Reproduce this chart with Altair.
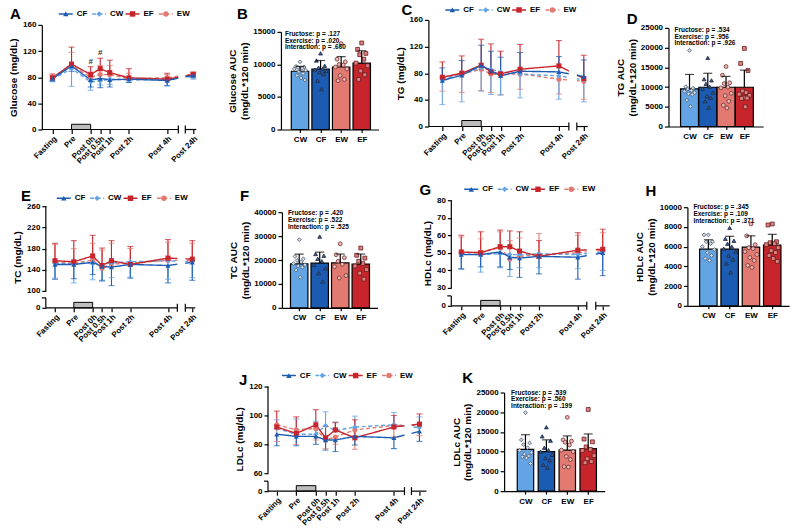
import altair as alt
import pandas as pd

FONT = "Arial"

# ---- sampling schedule -------------------------------------------------
TIME_LABELS = ["Fasting", "Pre", "Post 0h", "Post 0.5h", "Post 1h", "Post 2h", "Post 4h", "Post 24h"]
TIME_HOURS = [-2, -1, 0, 0.5, 1, 2, 4, 24]

SERIES = ["CF", "CW", "EF", "EW"]
SERIES_COLORS = ["#1b5cb2", "#62a4e4", "#c8242b", "#e27a72"]
SERIES_DASH = [[1, 0], [4, 2.5], [1, 0], [4, 2.5]]
SERIES_SHAPES = ["triangle-up", "diamond", "square", "circle"]
DRAW_ORDER = ["EW", "CW", "EF", "CF"]

GROUPS = ["CW", "CF", "EW", "EF"]
BAR_COLORS = ["#4b90dc", "#0d4d9f", "#dd968f", "#be2228"]
DOT_SHAPES = ["diamond", "triangle-up", "circle", "square"]
DOT_FILLS = ["#cdd9e6", "#3d5b88", "#ebb8b3", "#da8383"]
DOT_STROKES = ["#4b5868", "#1a2a45", "#6e3030", "#6a1b1b"]

FACTORS = ["Fructose", "Exercise", "Interaction"]

# ---- time courses (mean, SD, side of the error bar) --------------------
GLU_MEAN = {
    "CF": [78, 97, 76, 78, 76, 77, 75, 83],
    "CW": [77, 93, 73, 74, 77, 76, 77, 81],
    "EF": [79, 100, 84, 93, 87, 79, 77, 84],
    "EW": [80, 98, 80, 84, 84, 78, 79, 85],
}
GLU_SD = {
    "CF": [4, 8, 11, 14, 11, 5, 8, 4],
    "CW": [4, 27, 13, 6, 8, 4, 10, 4],
    "EF": [6, 26, 12, 16, 19, 14, 9, 4],
    "EW": [3, 20, 8, 14, 14, 8, 5, 2],
}
GLU_DIR = {"CF": -1, "CW": -1, "EF": 1, "EW": 1}
GLU_HASH_HOURS = [0, 0.5]
GLU_HASH_Y = [103, 117]

TG_MEAN = {
    "CF": [69, 77, 92, 84, 76, 83, 82, 75],
    "CW": [70, 80, 88, 86, 82, 79, 76, 70],
    "EF": [74, 80, 92, 82, 79, 86, 91, 72],
    "EW": [73, 79, 86, 79, 78, 79, 71, 68],
}
TG_SD = {
    "CF": [19, 22, 30, 29, 28, 28, 23, 25],
    "CW": [37, 43, 35, 38, 35, 36, 35, 33],
    "EF": [23, 26, 39, 42, 34, 37, 38, 35],
    "EW": [20, 28, 32, 28, 30, 23, 22, 27],
}
TG_DIR = {"CF": 1, "CW": -1, "EF": 1, "EW": -1}

TC_MEAN = {
    "CF": [150, 150, 154, 146, 145, 150, 148, 154],
    "CW": [152, 151, 153, 150, 153, 155, 157, 155],
    "EF": [157, 155, 166, 148, 157, 150, 162, 160],
    "EW": [155, 152, 158, 143, 151, 152, 158, 157],
}
TC_SD = {
    "CF": [28, 27, 23, 26, 35, 26, 33, 34],
    "CW": [28, 36, 32, 32, 28, 29, 35, 30],
    "EF": [33, 40, 39, 33, 38, 34, 35, 35],
    "EW": [33, 28, 32, 34, 39, 28, 34, 33],
}
TC_DIR = {"CF": -1, "CW": -1, "EF": 1, "EW": 1}

HDL_MEAN = {
    "CF": [49, 49, 50.5, 47.5, 47, 48, 47.5, 50],
    "CW": [49.5, 49, 49.5, 49, 49, 49.5, 49, 50.5],
    "EF": [50.5, 50, 53.5, 53.5, 51, 48, 51.5, 52],
    "EW": [50, 50.5, 53, 46.5, 48, 49, 50, 51.5],
}
HDL_SD = {
    "CF": [8, 7, 8.5, 7, 11, 10, 12.5, 13],
    "CW": [9, 10, 8, 12.5, 7.5, 8, 8, 10.5],
    "EF": [9.5, 12, 9.5, 9, 11, 9, 10, 11.5],
    "EW": [9, 7.5, 9, 10.5, 10.5, 12, 10, 10],
}
HDL_DIR = {"CF": -1, "CW": -1, "EF": 1, "EW": 1}

LDL_MEAN = {
    "CF": [87, 85.5, 85.5, 83, 83, 85.5, 84.5, 89],
    "CW": [91, 87, 87, 93, 89.5, 92, 93.5, 91.5],
    "EF": [92, 87.5, 93.5, 84.5, 90, 84.5, 92, 94],
    "EW": [93.5, 90, 91, 83, 85, 90, 93, 93.5],
}
LDL_SD = {
    "CF": [8, 6.5, 5.5, 7, 8, 6, 7.5, 7],
    "CW": [6, 10.5, 9, 9.5, 6, 7.5, 8.5, 7.5],
    "EF": [11, 11.5, 10.5, 8, 5, 12.5, 8, 7],
    "EW": [11.5, 10, 8, 6, 5, 13.5, 8, 7.5],
}
LDL_DIR = {"CF": -1, "CW": 1, "EF": 1, "EW": -1}

# ---- areas under the curve (group order: CW, CF, EW, EF) ---------------
GLU_AUC_MEAN = [8950, 9300, 9600, 10200]
GLU_AUC_SD = [750, 1300, 1600, 1900]
GLU_AUC_PTS = {
    "CW": [10400, 9700, 9600, 9500, 9400, 9300, 9100, 8900, 8600, 8300, 7900, 7600],
    "CF": [11700, 10600, 9800, 9500, 9300, 9200, 9000, 8800, 8500, 7500, 6200],
    "EW": [13200, 10800, 10400, 10000, 9900, 9600, 9300, 8300, 7700, 7500],
    "EF": [13300, 12300, 11700, 11500, 10800, 10200, 9800, 9000, 8400, 7700],
}
GLU_AUC_P = [".127", ".020", ".660"]

TG_AUC_MEAN = [9550, 9950, 9950, 9950]
TG_AUC_SD = [3650, 3550, 2750, 4350]
TG_AUC_PTS = {
    "CW": [19300, 10100, 9700, 9500, 9100, 8900, 8600, 8300, 8100, 6700, 5100],
    "CF": [17400, 12000, 11700, 10800, 10100, 9600, 8600, 7700, 7300, 6400, 4800],
    "EW": [15200, 13000, 11100, 10900, 10000, 9800, 8400, 7800, 6400, 5400, 4700],
    "EF": [19800, 16000, 14200, 9000, 8600, 8200, 7900, 7400, 7200, 7100, 5000],
}
TG_AUC_P = [".534", ".956", ".926"]

TC_AUC_MEAN = [18400, 18700, 18800, 18300]
TC_AUC_SD = [4100, 4600, 3700, 4200]
TC_AUC_PTS = {
    "CW": [28500, 21500, 20500, 19800, 19200, 18500, 18000, 17500, 17000, 15800, 12800],
    "CF": [29800, 22500, 21800, 20500, 19500, 18000, 16500, 14500, 11000],
    "EW": [26800, 22200, 21000, 19500, 18200, 17200, 13500, 12500],
    "EF": [25000, 22000, 20800, 19500, 18500, 17500, 16000, 14500, 12000],
}
TC_AUC_P = [".420", ".522", ".525"]

HDL_AUC_MEAN = [5750, 5750, 5950, 6150]
HDL_AUC_SD = [950, 1300, 1150, 1100]
HDL_AUC_PTS = {
    "CW": [7200, 7200, 6500, 6500, 6300, 6000, 5700, 5400, 5100, 4800, 4600],
    "CF": [7900, 6800, 6600, 6300, 6000, 5800, 5500, 5100, 4700, 4300, 3400],
    "EW": [8300, 7100, 6200, 5900, 5800, 5500, 5200, 4900, 4600, 4100, 3900],
    "EF": [8300, 8200, 6500, 6400, 6300, 6200, 5900, 5600, 5400, 5100, 4800, 4500],
}
HDL_AUC_P = [".345", ".109", ".371"]

LDL_AUC_MEAN = [10600, 10000, 10400, 10800]
LDL_AUC_SD = [3700, 3000, 3600, 3700]
LDL_AUC_PTS = {
    "CW": [19900, 13000, 12200, 11800, 11000, 10300, 9800, 9400, 8900, 8700, 8400, 7000],
    "CF": [16200, 13900, 12800, 11000, 10400, 10000, 9200, 8400, 7800, 6700, 6000],
    "EW": [18700, 13000, 12700, 12400, 11700, 10400, 10000, 8800, 8000, 6200, 6100],
    "EF": [20700, 13200, 12500, 11200, 10600, 10300, 9000, 8200, 7500, 7200],
}
LDL_AUC_P = [".539", ".560", ".199"]

# horizontal spread of the individual dots inside a bar (category units)
JITTER = [0, -0.2, 0.2, -0.1, 0.1, -0.28, 0.28, -0.05, 0.15, -0.15, 0.05, 0.24]


def nested_label_expr(values, labels):
    expr = "''"
    for v, lab in reversed(list(zip(values, labels))):
        expr = f"datum.value == {v} ? '{lab}' : {expr}"
    return expr


TIME_EXPR = nested_label_expr(TIME_HOURS, TIME_LABELS)
GROUP_EXPR = nested_label_expr(list(range(len(GROUPS))), GROUPS)


def letter_layer(letter, x, y):
    return alt.Chart(pd.DataFrame({"t": [letter]})).mark_text(
        font=FONT, fontSize=15, fontWeight="bold", align="left", baseline="middle", color="black"
    ).encode(text="t:N", x=alt.value(x), y=alt.value(y))


def line_panel(means, sds, dirs, lay, title, letter, box_top, hashes=None):
    W, H = lay["w"], lay["h"]
    p0, pph = lay["p0"], lay["pph"]
    b1, b2, p24, pend = lay["b1"], lay["b2"], lay["p24"], lay["end"]
    xdom = [-p0 / pph, (b1 - p0) / pph, 24 + (b2 - p24) / pph, 24 + (pend - p24) / pph]
    xs = alt.Scale(domain=xdom, range=[0, b1, b2, pend], nice=False, zero=False)
    ydom = lay["ydom"]
    ys = alt.Scale(domain=ydom, range=lay["yrange"], nice=False, zero=False)
    broken = len(ydom) > 2

    xaxis = alt.Axis(values=TIME_HOURS, labelExpr=TIME_EXPR, labelAngle=315, labelAlign="right",
                     labelBaseline="top", domain=False, title=None, grid=False, labelFontSize=8,
                     tickSize=4, labelPadding=1, labelOverlap=False)
    yaxis = alt.Axis(values=lay["yticks"], title=title, domain=not broken, grid=False,
                     labelFontSize=8, titleFontSize=10, titlePadding=4, tickSize=4,
                     labelPadding=2, labelOverlap=False)

    def X(f):
        return alt.X(f, scale=xs, axis=xaxis)

    def Y(f):
        return alt.Y(f, scale=ys, axis=yaxis)

    rows = []
    for s in DRAW_ORDER:
        for i, h in enumerate(TIME_HOURS):
            m = means[s][i]
            rows.append({"series": s, "hours": h, "mean": m, "end": m + dirs[s] * sds[s][i]})
    df = pd.DataFrame(rows)

    color = alt.Color("series:N", scale=alt.Scale(domain=SERIES, range=SERIES_COLORS), legend=None)
    dash = alt.StrokeDash("series:N", scale=alt.Scale(domain=SERIES, range=SERIES_DASH), legend=None)
    shape = alt.Shape("series:N", scale=alt.Scale(domain=SERIES, range=SERIES_SHAPES), legend=None)

    base = alt.Chart(df)
    box = alt.Chart(pd.DataFrame({"x0": [TIME_HOURS[1]], "x1": [TIME_HOURS[2]],
                                  "y0": [0], "y1": [box_top]})).mark_rect(
        fill="#bdbdbd", stroke="black", strokeWidth=1
    ).encode(x=X("x0:Q"), x2="x1:Q", y=Y("y0:Q"), y2="y1:Q")
    lines = base.mark_line(strokeWidth=1.4).encode(
        x=X("hours:Q"), y=Y("mean:Q"), color=color, strokeDash=dash, detail="series:N")
    err = base.mark_rule(strokeWidth=1.1).encode(x=X("hours:Q"), y=Y("mean:Q"), y2="end:Q", color=color)
    caps = base.mark_tick(orient="horizontal", size=6, thickness=1.1).encode(
        x=X("hours:Q"), y=Y("end:Q"), color=color)
    pts = base.mark_point(filled=True, opacity=1, size=26).encode(
        x=X("hours:Q"), y=Y("mean:Q"), color=color, shape=shape)

    gap = alt.Chart(pd.DataFrame({"a": [xdom[1]], "b": [xdom[2]]})).mark_rect(fill="white").encode(
        x=X("a:Q"), x2="b:Q", y=alt.value(0), y2=alt.value(H - 1.5))
    xline = alt.Chart(pd.DataFrame({"a": [xdom[0], xdom[2]], "b": [xdom[1], xdom[3]]})).mark_rule(
        color="black", strokeWidth=1.2).encode(x=X("a:Q"), x2="b:Q", y=alt.value(H))
    xbreak = alt.Chart(pd.DataFrame({"a": [xdom[1], xdom[2]]})).mark_rule(
        color="black", strokeWidth=1.2).encode(x=X("a:Q"), y=alt.value(H - 4), y2=alt.value(H + 4))

    layers = [box, lines, err, caps, pts, gap, xline, xbreak]

    if broken:
        yline = alt.Chart(pd.DataFrame({"a": [ydom[0], ydom[2]], "b": [ydom[1], ydom[3]]})).mark_rule(
            color="black", strokeWidth=1.2).encode(x=alt.value(0), y=Y("a:Q"), y2="b:Q")
        ycap = alt.Chart(pd.DataFrame({"a": [ydom[1]]})).mark_rule(
            color="black", strokeWidth=1.2).encode(x=alt.value(-4), x2=alt.value(0), y=Y("a:Q"))
        layers += [yline, ycap]

    # legend row above the plot
    lx0, ly, step = lay["legend"]
    leg = alt.Chart(pd.DataFrame({"series": SERIES, "idx": list(range(len(SERIES)))})).transform_calculate(
        lx=f"{lx0} + datum.idx * {step}", lt=f"{lx0 + 11} + datum.idx * {step}")
    leg_line = leg.mark_point(shape="M-1,0L1,0", size=196, filled=False, strokeWidth=1.5, opacity=1).encode(
        x=alt.X("lx:Q", scale=None), y=alt.value(ly), color=color, strokeDash=dash)
    leg_pt = leg.mark_point(filled=True, opacity=1, size=30).encode(
        x=alt.X("lx:Q", scale=None), y=alt.value(ly), color=color, shape=shape)
    leg_txt = leg.mark_text(font=FONT, fontSize=8, fontWeight="bold", align="left", baseline="middle",
                            color="black").encode(x=alt.X("lt:Q", scale=None), y=alt.value(ly), text="series:N")
    layers += [leg_line, leg_pt, leg_txt, letter_layer(letter, *lay["letter"])]

    if hashes is not None:
        hdf = pd.DataFrame({"hours": hashes[0], "y": hashes[1], "t": ["#"] * len(hashes[0])})
        layers.append(alt.Chart(hdf).mark_text(font=FONT, fontSize=8, fontWeight="bold", color="#333333").encode(
            x=X("hours:Q"), y=Y("y:Q"), text="t:N"))

    return alt.layer(*layers).properties(width=W, height=H)


def bar_panel(means, sds, points, pvals, lay, title_lines, letter):
    W, H = lay["w"], lay["h"]
    step, bw, first, R = lay["step"], lay["bw"], lay["first"], lay["R"]
    a = first + bw / 2
    xs = alt.Scale(domain=[-a / step, (R - a) / step], range=[0, R], nice=False, zero=False)
    ys = alt.Scale(domain=[0, lay["ymax"]], range=lay["yrange"], nice=False, zero=False)
    xaxis = alt.Axis(values=list(range(len(GROUPS))), labelExpr=GROUP_EXPR, title=None, labelAngle=0,
                     tickSize=3, labelPadding=3, grid=False, labelFontSize=8)
    yaxis = alt.Axis(values=list(range(0, lay["ymax"] + 1, lay["ystep"])), title=title_lines, grid=False,
                     format="d", labelFontSize=8, titleFontSize=10, tickSize=4, titlePadding=3,
                     labelOverlap=False)

    def X(f):
        return alt.X(f, scale=xs, axis=xaxis)

    def Y(f):
        return alt.Y(f, scale=ys, axis=yaxis)

    bdf = pd.DataFrame({"grp": GROUPS, "pos": list(range(len(GROUPS))), "mean": means,
                        "top": [m + s for m, s in zip(means, sds)]})
    prow = []
    for gi, g in enumerate(GROUPS):
        for k, v in enumerate(sorted(points[g], reverse=True)):
            prow.append({"grp": g, "jx": gi + JITTER[k % len(JITTER)], "val": v})
    pdf = pd.DataFrame(prow)

    bars = alt.Chart(bdf).mark_bar(size=bw, stroke="black", strokeWidth=1.2).encode(
        x=X("pos:Q"), y=Y("mean:Q"),
        color=alt.Color("grp:N", scale=alt.Scale(domain=GROUPS, range=BAR_COLORS), legend=None))
    dots = alt.Chart(pdf).mark_point(filled=True, opacity=1, size=15, strokeWidth=0.8).encode(
        x=X("jx:Q"), y=Y("val:Q"),
        shape=alt.Shape("grp:N", scale=alt.Scale(domain=GROUPS, range=DOT_SHAPES), legend=None),
        fill=alt.Fill("grp:N", scale=alt.Scale(domain=GROUPS, range=DOT_FILLS), legend=None),
        stroke=alt.Stroke("grp:N", scale=alt.Scale(domain=GROUPS, range=DOT_STROKES), legend=None))
    err = alt.Chart(bdf).mark_rule(color="black", strokeWidth=1.2).encode(
        x=X("pos:Q"), y=Y("mean:Q"), y2="top:Q")
    cap = alt.Chart(bdf).mark_tick(orient="horizontal", color="black", size=9, thickness=1.2).encode(
        x=X("pos:Q"), y=Y("top:Q"))
    px, py = lay["ptext"]
    ptxt = alt.Chart(pd.DataFrame({"t": [0]})).mark_text(
        text=[f"{f}: p = {p}" for f, p in zip(FACTORS, pvals)], font=FONT, fontSize=6.5,
        fontWeight="bold", align="left", baseline="top", lineHeight=6.7, color="black"
    ).encode(x=alt.value(px), y=alt.value(py))
    return alt.layer(bars, dots, err, cap, ptxt, letter_layer(letter, *lay["letter"])).properties(
        width=W, height=H)


def spacer(w, h):
    return alt.Chart(pd.DataFrame({"v": [0]})).mark_point(opacity=0).encode(
        x=alt.value(0), y=alt.value(0)).properties(width=w, height=h)


# ---- panel geometry (pixels inside each view) --------------------------
LAY_A = dict(w=240, h=126, p0=49, pph=19.2, b1=137, b2=144, p24=152, end=155,
             ydom=[0, 160], yrange=[126, 21], yticks=[0, 40, 80, 120, 160],
             legend=(24, 10, 33.5), letter=(-32, 10))
LAY_C = dict(w=241, h=123, p0=53, pph=19.5, b1=141, b2=149, p24=156, end=160,
             ydom=[0, 160], yrange=[123, 16], yticks=[0, 40, 80, 120, 160],
             legend=(24, 6, 33.5), letter=(-27, 6))
LAY_E = dict(w=237, h=129, p0=47, pph=18.9, b1=132, b2=140, p24=147, end=150,
             ydom=[0, 20, 100, 260], yrange=[129, 119, 112, 27], yticks=[0, 100, 140, 180, 220, 260],
             legend=(18, 19, 33.5), letter=(-25, 17))
LAY_G = dict(w=237, h=127, p0=49, pph=19.5, b1=136, b2=145, p24=152, end=159,
             ydom=[0, 6, 30, 80], yrange=[127, 117, 109, 21], yticks=[0, 30, 40, 50, 60, 70, 80],
             legend=(20, 10, 33.5), letter=(-32, 11))
LAY_J = dict(w=237, h=134, p0=48, pph=19.6, b1=137, b2=144, p24=152, end=159,
             ydom=[0, 20, 60, 120], yrange=[134, 124, 116, 29], yticks=[0, 60, 80, 100, 120],
             legend=(21, 18, 33.5), letter=(-29, 22))

LAY_B = dict(w=148, h=126, step=23, bw=17.5, first=7, R=98, ymax=15000, ystep=5000,
             yrange=[126, 28], ptext=(4, 27), letter=(-44, 10))
LAY_D = dict(w=130, h=123, step=20.5, bw=18, first=9, R=95, ymax=25000, ystep=5000,
             yrange=[123, 24], ptext=(6, 23), letter=(-42, 15))
LAY_F = dict(w=170, h=129, step=23, bw=17.5, first=5, R=96, ymax=40000, ystep=10000,
             yrange=[129, 33], ptext=(6, 31), letter=(-42, 17))
LAY_H = dict(w=111, h=127, step=23.7, bw=17.5, first=9, R=102, ymax=10000, ystep=2000,
             yrange=[127, 28], ptext=(6, 25), letter=(-42, 12))
LAY_K = dict(w=295, h=134, step=23.3, bw=16.5, first=10, R=101, ymax=25000, ystep=5000,
             yrange=[134, 35], ptext=(7, 32), letter=(-42, 20))

AUC_UNIT = "(mg/dL*120 min)"

panel_a = line_panel(GLU_MEAN, GLU_SD, GLU_DIR, LAY_A, "Glucose (mg/dL)", "A", 8,
                     hashes=(GLU_HASH_HOURS, GLU_HASH_Y))
panel_b = bar_panel(GLU_AUC_MEAN, GLU_AUC_SD, GLU_AUC_PTS, GLU_AUC_P, LAY_B, ["Glucose AUC", AUC_UNIT], "B")
panel_c = line_panel(TG_MEAN, TG_SD, TG_DIR, LAY_C, "TG (mg/dL)", "C", 9)
panel_d = bar_panel(TG_AUC_MEAN, TG_AUC_SD, TG_AUC_PTS, TG_AUC_P, LAY_D, ["TG AUC", AUC_UNIT], "D")
panel_e = line_panel(TC_MEAN, TC_SD, TC_DIR, LAY_E, "TC (mg/dL)", "E", 11)
panel_f = bar_panel(TC_AUC_MEAN, TC_AUC_SD, TC_AUC_PTS, TC_AUC_P, LAY_F, ["TC AUC", AUC_UNIT], "F")
panel_g = line_panel(HDL_MEAN, HDL_SD, HDL_DIR, LAY_G, "HDLc (mg/dL)", "G", 3.3)
panel_h = bar_panel(HDL_AUC_MEAN, HDL_AUC_SD, HDL_AUC_PTS, HDL_AUC_P, LAY_H, ["HDLc AUC", AUC_UNIT], "H")
panel_j = line_panel(LDL_MEAN, LDL_SD, LDL_DIR, LAY_J, "LDLc (mg/dL)", "J", 11)
panel_k = bar_panel(LDL_AUC_MEAN, LDL_AUC_SD, LDL_AUC_PTS, LDL_AUC_P, LAY_K, ["LDLc AUC", AUC_UNIT], "K")

row1 = alt.hconcat(spacer(39, 126), panel_a, panel_b, panel_c, panel_d, spacing=0, bounds="flush")
row2 = alt.hconcat(spacer(43, 129), panel_e, panel_f, panel_g, panel_h, spacing=0, bounds="flush")
row3 = alt.hconcat(spacer(266, 134), panel_j, panel_k, spacing=0, bounds="flush")

# rows are stacked by their full extent (rotated tick labels included)
chart = alt.vconcat(row1, row2, row3, spacing=11, bounds="full").properties(
    padding=0, background="white"
).configure_view(stroke=None).configure_axis(
    labelFont=FONT, titleFont=FONT, labelFontWeight="bold", titleFontWeight="bold",
    labelColor="black", titleColor="black", domainColor="black", tickColor="black",
    domainWidth=1.2, tickWidth=1.2
)

chart.save("out.html", embed_options={"renderer": "svg", "actions": False})
